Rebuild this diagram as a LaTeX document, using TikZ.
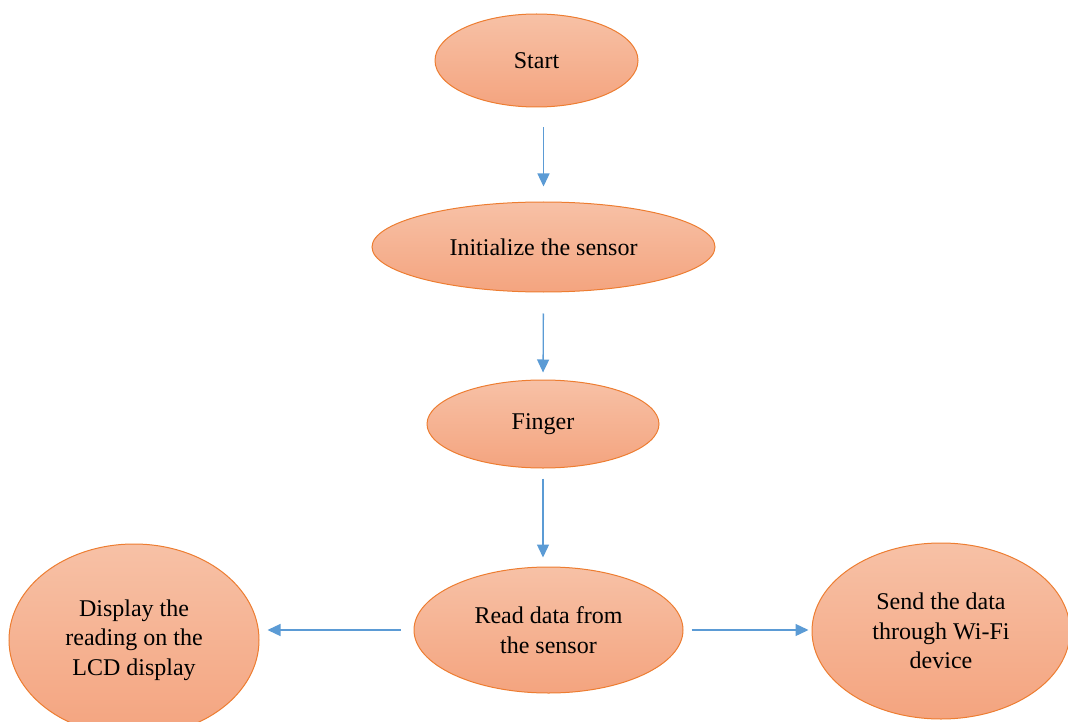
\documentclass[tikz,border=0pt]{standalone}
\usepackage{fontspec}
\setmainfont{Liberation Serif}
\usetikzlibrary{shapes.geometric,arrows.meta}
\definecolor{ovtop}{HTML}{F7C1A6}
\definecolor{ovbot}{HTML}{F4A47F}
\definecolor{ovline}{HTML}{ED7D31}
\definecolor{flowblue}{HTML}{5B9BD5}
\begin{document}
\begin{tikzpicture}[x=1pt,y=-1pt,
oval/.style={ellipse,draw=ovline,line width=1pt,top color=ovtop,bottom color=ovbot,inner sep=0pt,align=center,font=\fontsize{24}{29.5}\selectfont},
flow/.style={draw=flowblue,line width=1.3pt,-{Triangle[length=13pt,width=12pt]}}]
\useasboundingbox(0,0)rectangle(1068,722);
\node[oval,minimum width=203pt,minimum height=93pt](start)at(536.5,60.5){Start};
\node[oval,minimum width=343pt,minimum height=90pt](init)at(543.5,247){Initialize the sensor};
\node[oval,minimum width=232pt,minimum height=88pt](finger)at(543,424){Finger};
\node[oval,minimum width=269pt,minimum height=126pt](read)at(548.5,630){Read data from\\the sensor};
\node[oval,minimum width=250pt,minimum height=192pt](disp)at(134,640){Display the\\reading on the\\LCD display};
\node[oval,minimum width=258pt,minimum height=176pt](send)at(941,631){Send the data\\through Wi-Fi\\device};
\draw[flow,shorten <=20pt,shorten >=15pt](start.south-|init.north)--(init.north);
\draw[flow,shorten <=21pt,shorten >=7pt](init.south)--(finger.north);
\draw[flow,shorten <=10pt,shorten >=9pt](finger.south)--(finger.south|-read.north);
\draw[flow,shorten <=13pt,shorten >=8pt](read.west)--(read.west-|disp.east);
\draw[flow,shorten <=8pt,shorten >=3pt](read.east)--(read.east-|send.west);
\end{tikzpicture}
\end{document}
